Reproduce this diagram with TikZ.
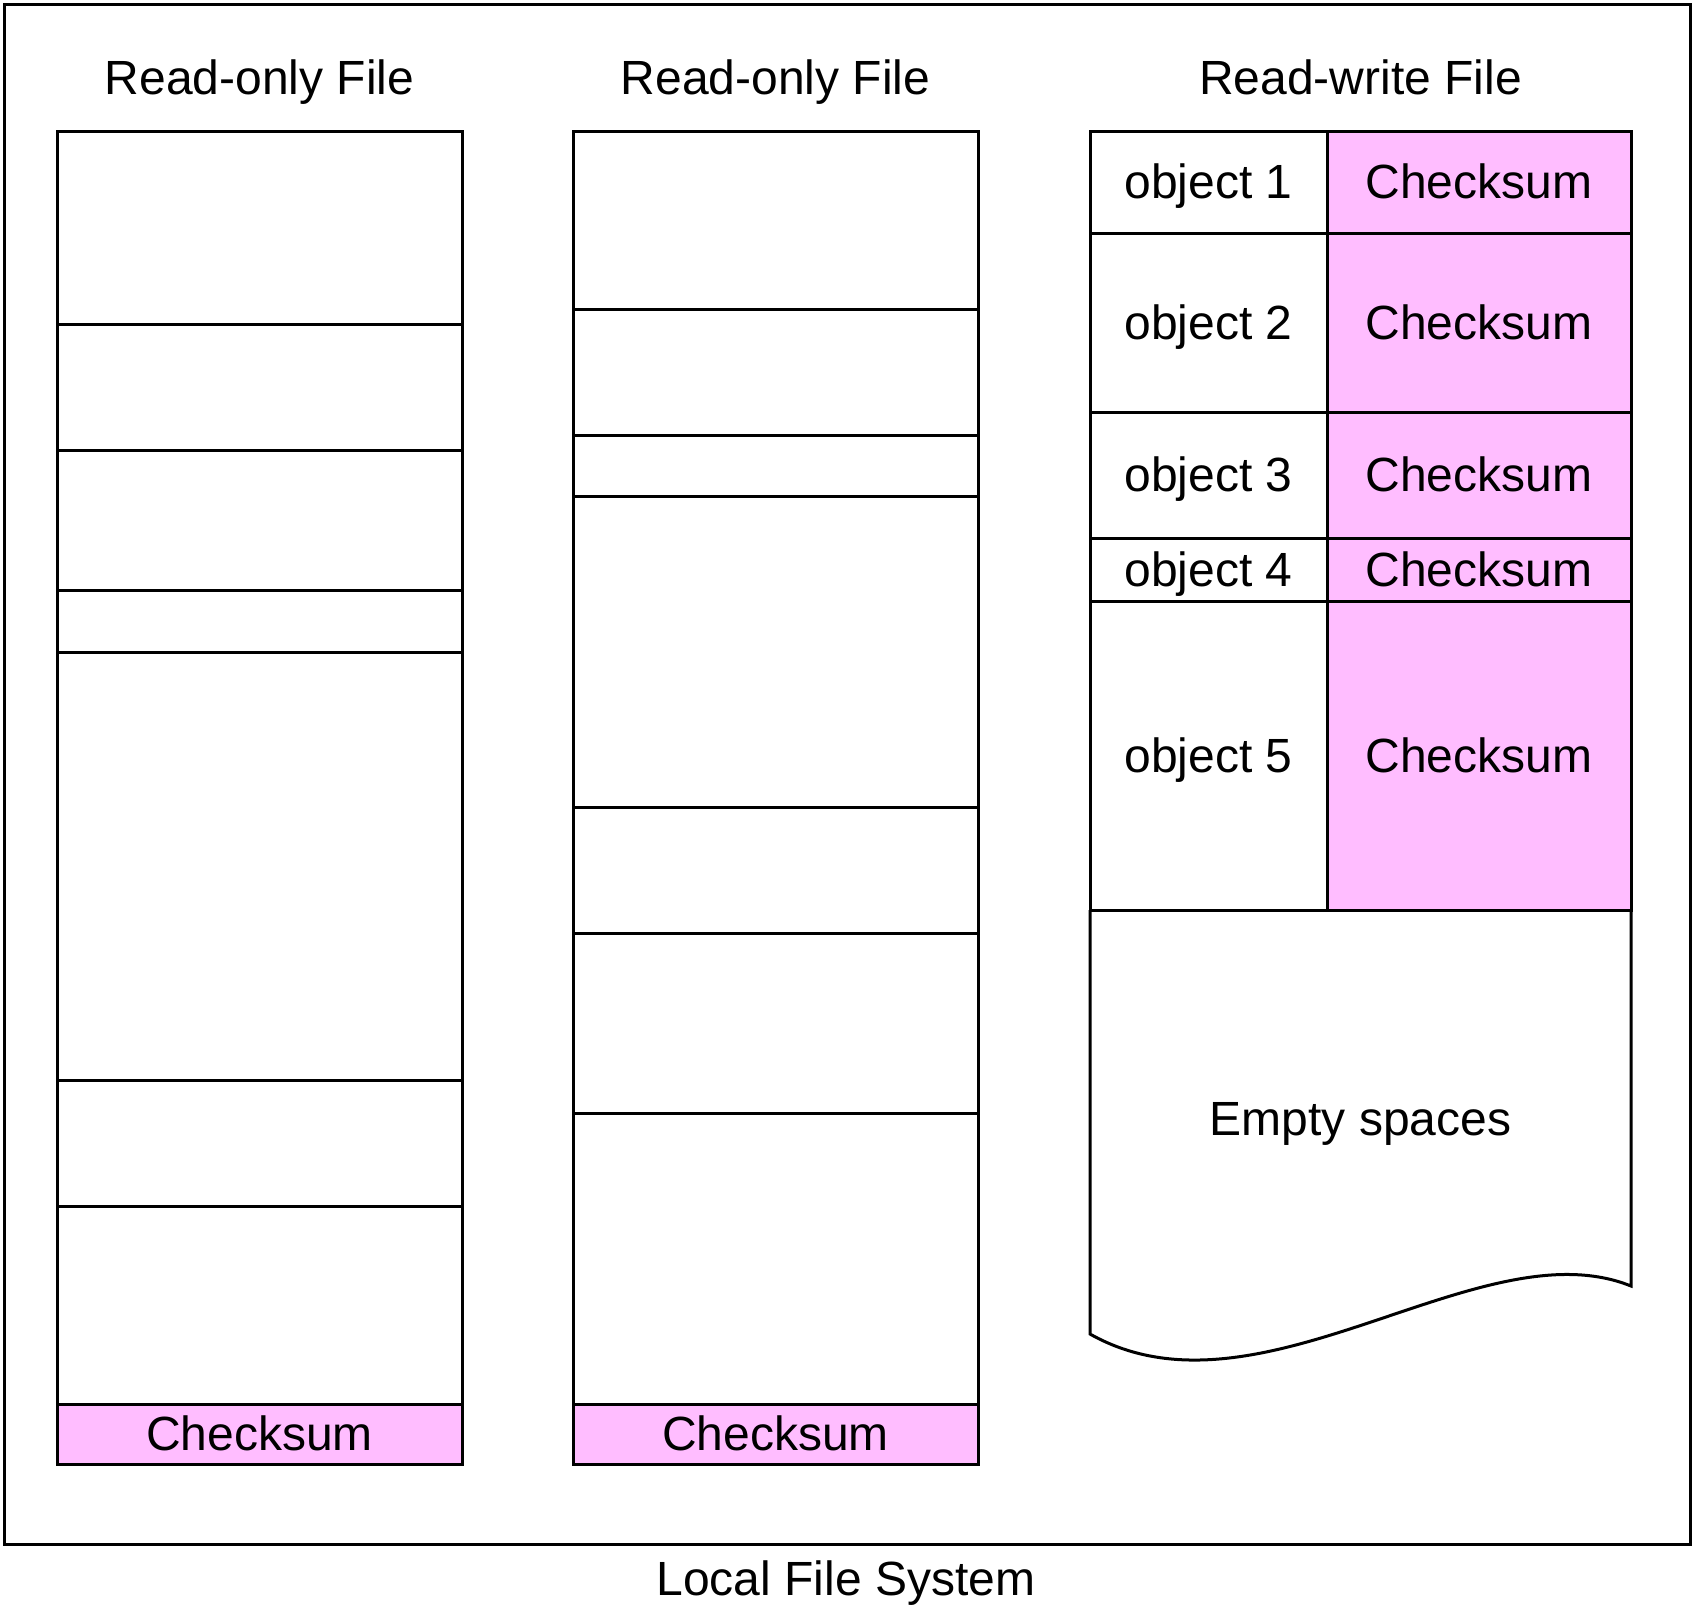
\documentclass[tikz,border=0pt]{standalone}
\usepackage{fontspec}
\setmainfont{Liberation Sans}
\usetikzlibrary{positioning}
\definecolor{CSPink}{HTML}{FFBDFF}

\begin{document}
\begin{tikzpicture}[x=0.25pt, y=0.25pt, node distance=0pt,
    font=\fontsize{12}{14}\selectfont,
    cell/.style={draw, line width=0.75pt, inner sep=0pt, outer sep=0pt, text height=0.84em, text depth=0pt, minimum width=101.25pt},
    sum/.style={cell, fill=CSPink},
    objcell/.style={cell, minimum width=59.25pt},
    sumcell/.style={sum, minimum width=76pt},
    title/.style={inner sep=0pt, text height=0.84em, text depth=0pt}]
  \useasboundingbox (0,0) rectangle (1692,-1611);
  \node[draw, line width=0.75pt, inner sep=0pt, minimum width=421.5pt, minimum height=385pt, anchor=north west] (lfs) at (3,-3) {};
  \node[title] (lfsname) at (846,-1579) {Local File System};

  % first read-only file
  \node[title] (t1) at (259.5,-78) {Read-only File};
  \node[cell, minimum height=48.25pt, anchor=north west] (a1) at (57,-131) {};
  \node[cell, minimum height=31.5pt, below=of a1] (a2) {};
  \node[cell, minimum height=35pt, below=of a2] (a3) {};
  \node[cell, minimum height=15.5pt, below=of a3] (a4) {};
  \node[cell, minimum height=107pt, below=of a4] (a5) {};
  \node[cell, minimum height=31.5pt, below=of a5] (a6) {};
  \node[cell, minimum height=49.5pt, below=of a6] (a7) {};
  \node[sum, minimum height=15pt, below=of a7] (a8) {Checksum};

  % second read-only file
  \node[title] (t2) at (775.5,-78) {Read-only File};
  \node[cell, minimum height=44.5pt, anchor=north west] (b1) at (573,-131) {};
  \node[cell, minimum height=31.5pt, below=of b1] (b2) {};
  \node[cell, minimum height=15.25pt, below=of b2] (b3) {};
  \node[cell, minimum height=77.75pt, below=of b3] (b4) {};
  \node[cell, minimum height=31.5pt, below=of b4] (b5) {};
  \node[cell, minimum height=45pt, below=of b5] (b6) {};
  \node[cell, minimum height=72.75pt, below=of b6] (b7) {};
  \node[sum, minimum height=15pt, below=of b7] (b8) {Checksum};

  % read-write file
  \node[title] (t3) at (1360.5,-78) {Read-write File};
  \node[objcell, minimum height=25.5pt, anchor=north west] (o1) at (1090,-131) {object 1};
  \node[sumcell, minimum height=25.5pt, right=of o1] (k1) {Checksum};
  \node[objcell, minimum height=44.75pt, below=of o1] (o2) {object 2};
  \node[sumcell, minimum height=44.75pt, right=of o2] (k2) {Checksum};
  \node[objcell, minimum height=31.5pt, below=of o2] (o3) {object 3};
  \node[sumcell, minimum height=31.5pt, right=of o3] (k3) {Checksum};
  \node[objcell, minimum height=15.75pt, below=of o3] (o4) {object 4};
  \node[sumcell, minimum height=15.75pt, right=of o4] (k4) {Checksum};
  \node[objcell, minimum height=77.25pt, below=of o4] (o5) {object 5};
  \node[sumcell, minimum height=77.25pt, right=of o5] (k5) {Checksum};
  \draw[line width=0.75pt] (o5.south west) -- (1090,-1334) .. controls (1260,-1430) and (1480,-1225) .. (1631,-1286) -- (k5.south east);
  \node[title] (empty) at (1360.5,-1119) {Empty spaces};
\end{tikzpicture}
\end{document}
